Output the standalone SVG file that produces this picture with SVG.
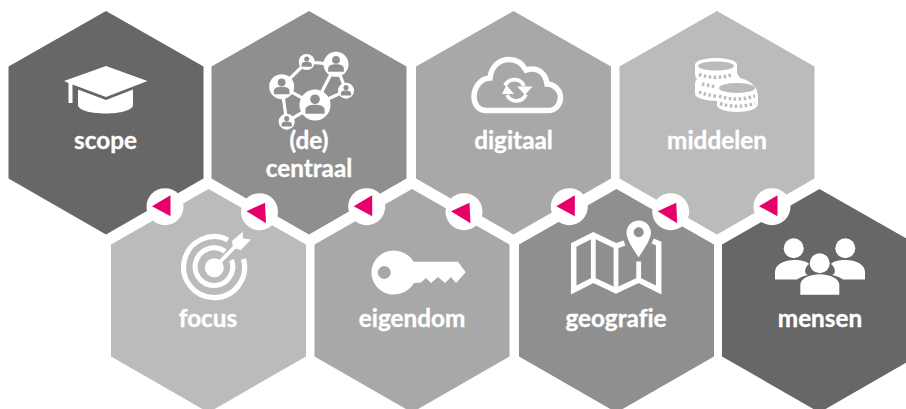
<svg xmlns="http://www.w3.org/2000/svg" width="906" height="409" viewBox="0 0 906 409">
<style>
.t{font-family:Lato,"Open Sans",sans-serif;font-weight:700;font-size:24.3px;fill:#fff;stroke:#fff;stroke-width:.35px;text-anchor:middle;font-variant-ligatures:none}
.i{fill:#fff}
.s{fill:none;stroke:#fff}
.c1{fill:#676767}.c2{fill:#8f8f8f}.c3{fill:#a8a8a8}.c4{fill:#bbb}
</style>
<defs>
<polygon id="hex" points="0,-95 97.5,-39.5 97.5,72.5 0,128.5 -97.5,72.5 -97.5,-39.5"/>
<g id="tA"><circle r="18.5" fill="#fff"/><polygon points="-13,-0.5 5.5,-11.5 5.5,9.5" fill="#e5006a"/></g>
<g id="tB"><circle r="18.5" fill="#fff"/><polygon points="-13,-0.5 5.5,-9 6.5,11.5" fill="#e5006a"/></g>
<g id="person"><circle cx="0" cy="-3.6" r="3"/><path d="M-6,5.5V3C-6,0.5 -3,-0.2 0,-0.2S6,0.5 6,3V5.5Z"/></g>
</defs>

<g id="scope"><use href="#hex" x="106" y="106" class="c1"/>
<path class="i" d="M106,66L147.5,81L106,97L72.500,84.500V103H68.500V83L64,81Z"/>
<path class="i" d="M78,89.500L106,100L133,89.500V105C133,110 120,113.500 105.500,113.500S78,110 78,105Z"/>
<text class="t" x="105.500" y="148.500">scope</text></g>

<g id="decentraal"><use href="#hex" x="309" y="106" class="c2"/>
<g stroke="#fff" stroke-width="3.200" fill="none"><path d="M281.700,86.700L306.700,62L336,64.300L315,105L281.700,86.700L286.700,121.700L315,105L346,90.700L336,64.300"/></g>
<g fill="#fff"><circle cx="315" cy="105" r="15.500"/><circle cx="281.700" cy="86.700" r="12.500"/><circle cx="336" cy="64.300" r="12.500"/><circle cx="306.700" cy="62" r="8"/><circle cx="346" cy="90.700" r="8"/><circle cx="286.700" cy="121.700" r="8"/></g>
<g fill="#8f8f8f"><use href="#person" transform="translate(315,105) scale(1.600)"/><use href="#person" transform="translate(281.700,87) scale(1.300)"/><use href="#person" transform="translate(336,64.500) scale(1.300)"/><use href="#person" transform="translate(306.700,62) scale(.85)"/><use href="#person" transform="translate(346,90.700) scale(.85)"/><use href="#person" transform="translate(286.700,121.700) scale(.85)"/></g>
<text class="t" x="309" y="148.500">(de)</text><text class="t" x="309" y="177">centraal</text></g>

<g id="digitaal"><use href="#hex" x="513.500" y="106" class="c3"/>
<path class="s" stroke-width="5.500" d="M486,110.500H548C556,110.500 560.500,104 560.500,97.500C560.500,90 554,84 547,84C546,75 540,69 532,69C530,69 528,69.500 526,70C522,63 516,59.500 509,59.500C499,59.500 491,67 490,78C481,78 474,87 474,97C474,105 479,110.500 486,110.500Z"/>
<path class="s" stroke-width="3.800" d="M505,85.500A10.500,10.500 0 0 1 524,86"/><path class="s" stroke-width="3.800" d="M526,94.500A10.500,10.500 0 0 1 507,95"/>
<polygon class="i" points="517,86.500 532.500,86.500 525,95"/><polygon class="i" points="502,94 514,94 506.500,85"/>
<text class="t" x="513.500" y="148.500">digitaal</text></g>

<g id="middelen"><use href="#hex" x="717" y="106" class="c4"/>
<path class="i" d="M695,65C695,60 706,58 716,58S737,60 737,65V73L740,78C745,79 758,84 758,96V104C758,109 748,112 737,112S717,109 717,105V101C706,101 695,98 695,94V84C695,81 696,80 697,79C696,78 695,76 695,74Z"/>
<ellipse cx="716" cy="66" rx="18" ry="4.500" fill="#bbb"/>
<ellipse cx="737" cy="88" rx="18" ry="5" fill="#bbb"/>
<g stroke="#bbb" stroke-width="3.500" stroke-dasharray="2.500 2.500" fill="none"><path d="M699,74.500Q716,80 733,74.500"/><path d="M699,92Q706,95 716,96"/><path d="M702,84L716,87"/><path d="M719,96Q737,102 755,96"/><path d="M720,103.500Q737,109 755,103.500"/></g>
<text class="t" x="717" y="148.500">middelen</text></g>

<g id="focus"><use href="#hex" x="208.500" y="284" class="c4"/>
<path class="s" stroke-width="5.200" d="M228,240A30.500,30.500 0 1 0 243.500,259"/>
<path class="s" stroke-width="5" d="M225,251.500A18.800,18.800 0 1 0 231.500,260"/>
<circle class="i" cx="214.300" cy="267.700" r="9.500"/>
<path class="s" stroke-width="3.800" d="M214.300,267.700L236,245.500"/>
<polygon class="i" points="232,241 242.700,231.700 243,238.500 251,239.500 241,250 233,248"/>
<text class="t" x="208" y="326.500">focus</text></g>

<g id="eigendom"><use href="#hex" x="412" y="284" class="c3"/>
<path class="i" fill-rule="evenodd" d="M393.300,250.500C402,250.500 410,255 413.500,261.700H458L465.700,272.300L456,283L451,277L445,283L438,277L431,283L426,278L421,282.500L414,283C410,290 402,294.500 393.300,294.500C381,294.500 371.500,284 371.500,272.500S381,250.500 393.300,250.500ZM384.300,266A6.500,6.500 0 1 0 384.300,279A6.500,6.500 0 1 0 384.300,266Z"/>
<text class="t" x="412" y="326.500">eigendom</text></g>

<g id="geografie"><use href="#hex" x="616.500" y="284" class="c2"/>
<path class="s" stroke-width="5.500" d="M624.500,243L616,246L593.300,235L573.700,245V290L593.300,280L616,290.700L638.700,280L658.700,290V243.500L652.700,241"/>
<path class="s" stroke-width="4.800" d="M593.300,235V280M616,246V290.700M638.700,261.500V280"/>
<path class="i" fill-rule="evenodd" d="M638.700,220.500C645.500,220.500 651,226 651,232.500C651,240 643,250 638.700,257.500C634,250 626.500,240 626.500,232.500C626.500,226 632,220.500 638.700,220.500ZM638.700,227.300A5,5 0 1 0 638.700,237.300A5,5 0 1 0 638.700,227.300Z"/>
<text class="t" x="616" y="326.500">geografie</text></g>

<g id="mensen"><use href="#hex" x="819.500" y="284" class="c1"/>
<circle class="i" cx="793.700" cy="248.300" r="10"/><circle class="i" cx="845.300" cy="248.300" r="10"/>
<path class="i" d="M775,279.500V272C775,264 785,260 794,260S807,262 809,264C804,268 804,274 808,275C804,276 800,277 797,279.500Z"/>
<path class="i" d="M865,279.500V272C865,264 855,260 846,260S833,262 831,264C836,268 836,274 832,275C836,276 840,277 843,279.500Z"/>
<circle class="i" cx="819.700" cy="263.300" r="10"/>
<path class="i" d="M800.300,294.700V285C800.300,278 811,274.300 819.700,274.300S839.300,278 839.300,285V294.700Z"/>
<text class="t" x="820" y="326.500">mensen</text></g>

<g id="connectors">
<use href="#tA" x="165" y="206.700"/>
<use href="#tB" x="259.500" y="211.700"/>
<use href="#tA" x="366.700" y="206.700"/>
<use href="#tB" x="464" y="211.700"/>
<use href="#tA" x="569.300" y="206.700"/>
<use href="#tB" x="670.700" y="211.700"/>
<use href="#tA" x="772" y="206.700"/>
</g>
</svg>
